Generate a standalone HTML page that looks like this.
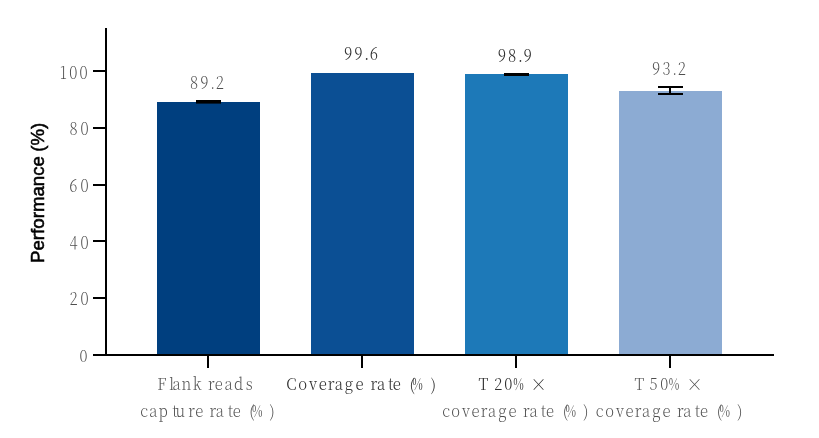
<!DOCTYPE html>
<html lang="en"><head><meta charset="utf-8"><title>Performance</title>
<style>
html,body{margin:0;padding:0;background:#fff;}
body{width:819px;height:438px;overflow:hidden;}
svg{display:block;}
.s{font-family:"Noto Serif CJK SC","Liberation Serif",serif;font-weight:200;font-size:17.0px;fill:#4e4e4e;text-anchor:middle;}
.d{fill:#303030;font-weight:300;}
.t{font-size:16.2px;}
.yl{font-family:"Liberation Sans",Arial,sans-serif;font-size:18.7px;fill:#000;text-anchor:middle;stroke:#000;stroke-width:0.55px;word-spacing:-1px;}
</style></head><body>
<svg width="819" height="438" viewBox="0 0 819 438">
<rect width="819" height="438" fill="#fff"/>
<g shape-rendering="crispEdges">

<rect x="157" y="102" width="103" height="252" fill="#003f7f"/>
<rect x="311" y="73" width="103" height="281" fill="#0b4f94"/>
<rect x="465" y="74" width="103" height="280" fill="#1d79b8"/>
<rect x="619" y="91" width="103" height="263" fill="#8cabd3"/>
<rect x="105" y="28" width="2" height="328" fill="#000"/>
<rect x="93" y="354" width="681" height="2" fill="#000"/>
<rect x="93" y="297" width="12" height="2" fill="#000"/>
<rect x="93" y="240" width="12" height="2" fill="#000"/>
<rect x="93" y="184" width="12" height="2" fill="#000"/>
<rect x="93" y="127" width="12" height="2" fill="#000"/>
<rect x="93" y="70" width="12" height="2" fill="#000"/>
<rect x="207" y="356" width="2" height="12" fill="#000"/>
<rect x="361" y="356" width="2" height="12" fill="#000"/>
<rect x="515" y="356" width="2" height="12" fill="#000"/>
<rect x="669" y="356" width="2" height="12" fill="#000"/>
<rect x="196" y="100" width="25" height="3.6" fill="#000" shape-rendering="geometricPrecision"/>
<rect x="504" y="73" width="25" height="3" fill="#000"/>
<rect x="658" y="86" width="25" height="2" fill="#000"/>
<rect x="658" y="93" width="25" height="2" fill="#000"/>
<rect x="669" y="86" width="2" height="9" fill="#000"/>
</g>
<text class="s" transform="scale(0.88 1)" y="361.8"><tspan x="95.0">0</tspan></text>
<text class="s" transform="scale(0.88 1)" y="304.9"><tspan x="83.5 96.0">20</tspan></text>
<text class="s" transform="scale(0.88 1)" y="248.7"><tspan x="83.5 96.0">40</tspan></text>
<text class="s" transform="scale(0.88 1)" y="191.9"><tspan x="83.4 96.0">60</tspan></text>
<text class="s" transform="scale(0.88 1)" y="134.9"><tspan x="83.5 96.0">80</tspan></text>
<text class="s" transform="scale(0.88 1)" y="78.8"><tspan x="71.8 83.3 95.0">100</tspan></text>
<text class="s" transform="scale(0.88 1)" y="88.9"><tspan x="220.5 232.2 241.6 249.7">89.2</tspan></text>
<text class="s d" transform="scale(0.88 1)" y="59.7"><tspan x="395.6 407.3 416.7 424.8">99.6</tspan></text>
<text class="s d" transform="scale(0.88 1)" y="61.6"><tspan x="570.3 582.0 591.5 599.5">98.9</tspan></text>
<text class="s" transform="scale(0.88 1)" y="74.9"><tspan x="745.7 757.4 766.8 774.9">93.2</tspan></text>
<text class="s t" transform="scale(0.925 1)" y="390.4"><tspan x="175.0 185.5 190.8 201.5 213.1 220.9 228.6 236.4 247.1 257.9 269.4">Flank reads</tspan></text>
<text class="s t" transform="scale(0.925 1)" y="417.5"><tspan x="156.0 165.7 176.3 189.0 195.0 207.2 215.4 222.8 230.2 237.8 249.2 256.0 264.1 272.2">capture rate (</tspan><tspan x="278.2" textLength="11.4" lengthAdjust="spacingAndGlyphs" font-weight="400">%</tspan><tspan x="294.1">)</tspan></text>
<text class="s t d" transform="scale(0.925 1)" y="390.4"><tspan x="314.9 327.1 338.5 348.9 358.1 366.4 377.3 388.8 396.5 404.2 412.0 422.5 429.1 437.4 445.7">Coverage rate (</tspan><tspan x="451.4" textLength="11.4" lengthAdjust="spacingAndGlyphs" font-weight="400">%</tspan><tspan x="468.5">)</tspan></text>
<text class="s t d" transform="scale(0.925 1)" y="390.4"><tspan x="522.6 530.7 538.8 549.4">T 20</tspan><tspan x="560.5" textLength="11.4" lengthAdjust="spacingAndGlyphs" font-weight="400">%</tspan><tspan x="571.4"> </tspan><tspan x="582.2" dy="0.8" font-size="18">×</tspan></text>
<text class="s t" transform="scale(0.925 1)" y="417.5"><tspan x="482.5 492.5 503.8 514.2 523.4 532.1 543.1 554.1 561.6 569.1 576.8 587.6 594.6 602.9 611.1">coverage rate (</tspan><tspan x="617.1" textLength="11.4" lengthAdjust="spacingAndGlyphs" font-weight="400">%</tspan><tspan x="633.3">)</tspan></text>
<text class="s t" transform="scale(0.925 1)" y="390.4"><tspan x="691.2 698.9 706.6 718.1">T 50</tspan><tspan x="728.6" textLength="11.4" lengthAdjust="spacingAndGlyphs" font-weight="400">%</tspan><tspan x="739.8"> </tspan><tspan x="750.9" dy="0.8" font-size="18">×</tspan></text>
<text class="s t" transform="scale(0.925 1)" y="417.5"><tspan x="648.3 659.0 670.3 680.6 689.8 698.6 709.6 720.5 728.1 735.6 743.2 754.1 761.1 769.4 777.6">coverage rate (</tspan><tspan x="783.6" textLength="11.4" lengthAdjust="spacingAndGlyphs" font-weight="400">%</tspan><tspan x="799.8">)</tspan></text>
<text class="yl" transform="translate(43.5 192.9) rotate(-90)">Performance (%)</text>
</svg>
</body></html>
